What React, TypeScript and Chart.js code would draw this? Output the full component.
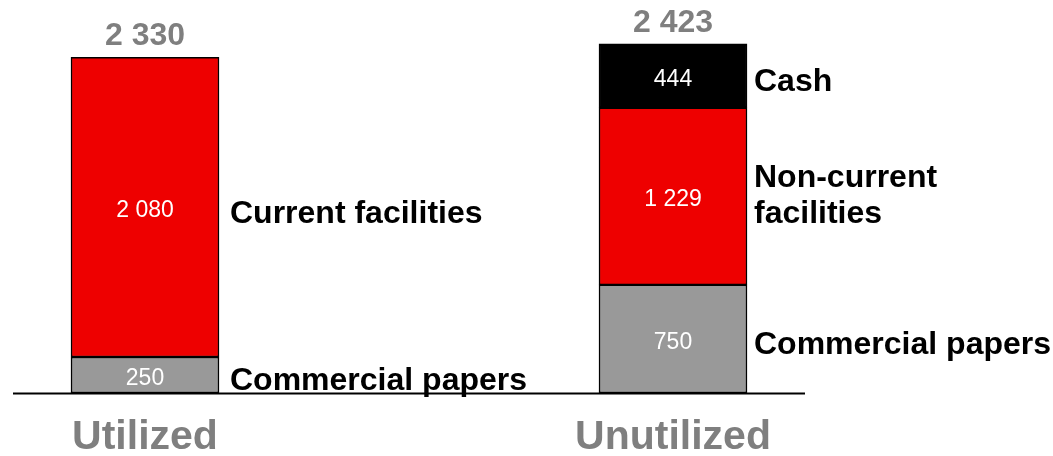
import React, { useEffect, useRef } from "react";
import { Chart, registerables } from "chart.js";

Chart.register(...registerables);

// ---- data ----
const categories = ["Utilized", "Unutilized"];
const commercialPapers = [250, 750];
const facilities = [2080, 1229];
const cash: (number | null)[] = [null, 444];
const commercialLabels = ["Commercial papers", "Commercial papers"];
const facilityLabels = ["Current facilities", "Non-current\nfacilities"];
const cashLabels = ["", "Cash"];
const yMax = 2700;

const FONT = "'Liberation Sans', Arial, Helvetica, sans-serif";
const labelGap = [11, 7];

const fmt = (v: number) => String(v).replace(/\B(?=(\d{3})+(?!\d))/g, " ");

const annotate = {
  id: "annotate",
  afterDatasetsDraw(chart: any) {
    const ctx: CanvasRenderingContext2D = chart.ctx;
    const yScale = chart.scales.y;
    const zero = yScale.getPixelForValue(0);
    ctx.save();
    // baseline
    ctx.strokeStyle = "#000";
    ctx.lineWidth = 2;
    ctx.beginPath();
    ctx.moveTo(13, zero + 0.5);
    ctx.lineTo(805, zero + 0.5);
    ctx.stroke();

    const totals = categories.map(() => 0);
    const centers = categories.map(() => 0);
    chart.data.datasets.forEach((ds: any, di: number) => {
      const meta = chart.getDatasetMeta(di);
      meta.data.forEach((bar: any, i: number) => {
        const v = ds.data[i];
        if (v == null) return;
        totals[i] += v;
        const { x, y, base, width } = bar.getProps(["x", "y", "base", "width"], true);
        centers[i] = x;
        const mid = (y + base) / 2;
        // inner value
        ctx.font = `23px ${FONT}`;
        ctx.fillStyle = "#ffffff";
        ctx.textAlign = "center";
        ctx.textBaseline = "alphabetic";
        ctx.fillText(fmt(v), x, mid + 1.5 + 0.358 * 23);
        // side label
        const text: string = ds.sideLabels[i];
        if (!text) return;
        const lines = text.split("\n");
        const lh = 36;
        ctx.font = `bold 32px ${FONT}`;
        ctx.fillStyle = "#000000";
        ctx.textAlign = "left";
        const blockCenter = lines.length > 1 ? mid - 3 : mid + 4;
        lines.forEach((ln, k) => {
          const cy = blockCenter + (k - (lines.length - 1) / 2) * lh;
          ctx.fillText(ln, x + width / 2 + labelGap[i], cy + 0.358 * 32);
        });
      });
    });
    // totals
    ctx.font = `bold 32px ${FONT}`;
    ctx.fillStyle = "#7f7f7f";
    ctx.textAlign = "center";
    ctx.textBaseline = "alphabetic";
    totals.forEach((t, i) => {
      const top = yScale.getPixelForValue(t);
      ctx.fillText(fmt(t), centers[i], top - 12);
    });
    ctx.restore();
  },
};

export default function App() {
  const ref = useRef<HTMLCanvasElement | null>(null);
  useEffect(() => {
    if (!ref.current) return;
    const common = {
      borderColor: "#000000",
      borderWidth: 1.5,
      borderSkipped: false,
      barThickness: 148,
      clip: false,
    };
    const chart = new Chart(ref.current, {
      type: "bar",
      data: {
        labels: categories,
        datasets: [
          { label: "Commercial papers", data: commercialPapers, backgroundColor: "#999999", sideLabels: commercialLabels, ...common } as any,
          { label: "Facilities", data: facilities, backgroundColor: "#ee0000", sideLabels: facilityLabels, ...common } as any,
          { label: "Cash", data: cash, backgroundColor: "#000000", sideLabels: cashLabels, ...common } as any,
        ],
      },
      options: {
        animation: false,
        responsive: true,
        maintainAspectRatio: false,
        layout: { padding: { left: 145, right: 380, top: 4, bottom: 0 } },
        plugins: { legend: { display: false }, tooltip: { enabled: false } },
        scales: {
          x: {
            stacked: true,
            offset: false,
            grid: { display: false, drawTicks: false },
            border: { display: false },
            afterFit: (scale: any) => {
              scale.height = 63;
            },
            ticks: {
              color: "#7f7f7f",
              padding: 24,
              font: { family: FONT, size: 41, weight: "bold", lineHeight: 1 },
            },
          },
          y: {
            stacked: true,
            display: false,
            min: 0,
            max: yMax,
          },
        },
      },
      plugins: [annotate],
    });
    return () => chart.destroy();
  }, []);
  return (
    <div style={{ position: "fixed", left: 0, top: 0, width: 1053, height: 456, background: "#fff" }}>
      <canvas ref={ref} />
    </div>
  );
}
